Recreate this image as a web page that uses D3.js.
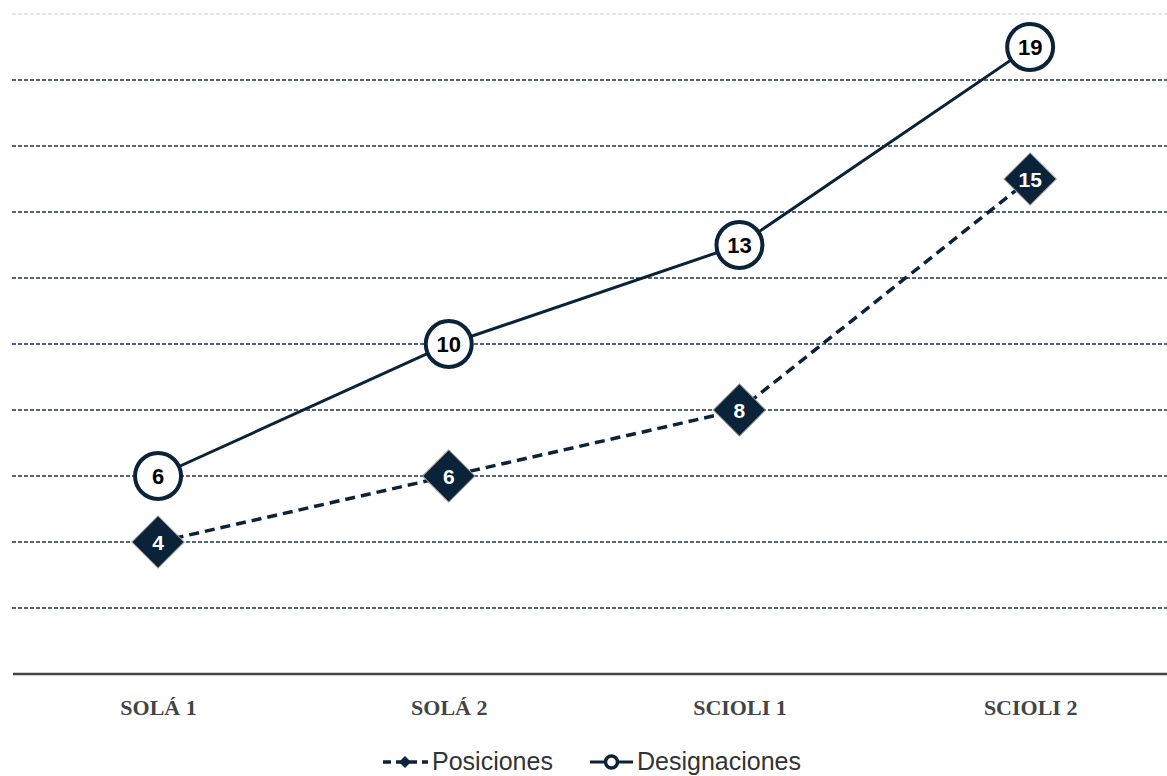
<!DOCTYPE html>
<html>
<head>
<meta charset="utf-8">
<script src="https://cdn.jsdelivr.net/npm/d3@7"></script>
<style>
  html, body { margin: 0; padding: 0; background: #fff; }
  svg { display: block; }
</style>
</head>
<body>
<svg id="chart" width="1167" height="776"></svg>
<script>
const categories = ["SOLÁ 1", "SOLÁ 2", "SCIOLI 1", "SCIOLI 2"];
const posiciones = [4, 6, 8, 15];
const designaciones = [6, 10, 13, 19];
const seriesNames = ["Posiciones", "Designaciones"];
const gridValues = [2, 4, 6, 8, 10, 12, 14, 16, 18, 20];

const navy = "#0b2338";
const svg = d3.select("#chart");

const x = d3.scalePoint().domain(categories).range([12.7, 1175.5]).padding(0.5);
const y = d3.scaleLinear().domain([0, 20]).range([674, 14]);

// gridlines
svg.append("g").selectAll("line").data(gridValues).join("line")
  .attr("x1", 12).attr("x2", 1167)
  .attr("y1", d => y(d)).attr("y2", d => y(d))
  .attr("stroke", d => d === 20 ? "#dcdcdc" : "#1a3549")
  .attr("stroke-width", 1.6)
  .attr("stroke-dasharray", "4,2");

// x axis
const xAxis = d3.axisBottom(x).tickSize(0).tickPadding(0);
const gx = svg.append("g").attr("transform", `translate(0,${y(0)})`).call(xAxis);
gx.select(".domain").attr("d", "M13,0H1167").attr("stroke", "#444").attr("stroke-width", 2.5);
gx.selectAll(".tick text")
  .attr("dy", null).attr("y", 41)
  .attr("font-family", "'Liberation Serif', 'DejaVu Serif', serif")
  .attr("font-weight", "bold")
  .attr("font-size", 22)
  .attr("fill", "#444");

const line = d3.line().x((d, i) => x(categories[i])).y(d => y(d));

// Posiciones (dashed) line
svg.append("path").datum(posiciones)
  .attr("d", line).attr("fill", "none")
  .attr("stroke", navy).attr("stroke-width", 3.5)
  .attr("stroke-dasharray", "10,6");

// Designaciones (solid) line
svg.append("path").datum(designaciones)
  .attr("d", line).attr("fill", "none")
  .attr("stroke", navy).attr("stroke-width", 3);

// diamonds
const diamond = d3.symbol().type(d3.symbolSquare).size(37 * 37);
const dg = svg.append("g").selectAll("g").data(posiciones).join("g")
  .attr("transform", (d, i) => `translate(${x(categories[i])},${y(d)})`);
dg.append("path").attr("d", diamond).attr("transform", "rotate(45)")
  .attr("fill", navy).attr("stroke", "#9a9a9a").attr("stroke-width", 1);
dg.append("text").text(d => d)
  .attr("text-anchor", "middle").attr("dy", "0.36em")
  .attr("font-family", "'Liberation Sans', Arial, sans-serif")
  .attr("font-weight", "bold").attr("font-size", 21)
  .attr("fill", "#fff");

// circles
const cg = svg.append("g").selectAll("g").data(designaciones).join("g")
  .attr("transform", (d, i) => `translate(${x(categories[i])},${y(d)})`);
cg.append("circle").attr("r", 23)
  .attr("fill", "#fff").attr("stroke", navy).attr("stroke-width", 4);
cg.append("text").text(d => d)
  .attr("text-anchor", "middle").attr("dy", "0.36em")
  .attr("font-family", "'Liberation Sans', Arial, sans-serif")
  .attr("font-weight", "bold").attr("font-size", 22)
  .attr("fill", "#000");

// legend
const legend = svg.append("g").attr("transform", "translate(0,762)");
const l1 = legend.append("g").attr("transform", "translate(383,0)");
l1.append("line").attr("x1", 0).attr("x2", 45).attr("y1", 0).attr("y2", 0)
  .attr("stroke", navy).attr("stroke-width", 3.5).attr("stroke-dasharray", "8,5");
l1.append("path").attr("d", d3.symbol().type(d3.symbolSquare).size(72))
  .attr("transform", "translate(22,0) rotate(45)").attr("fill", navy);
l1.append("text").text(seriesNames[0]).attr("x", 49).attr("y", 8)
  .attr("font-family", "'Liberation Sans', Arial, sans-serif")
  .attr("font-size", 25).attr("fill", "#333");

const l2 = legend.append("g").attr("transform", "translate(590,0)");
l2.append("line").attr("x1", 0).attr("x2", 43).attr("y1", 0).attr("y2", 0)
  .attr("stroke", navy).attr("stroke-width", 3);
l2.append("circle").attr("cx", 21.5).attr("cy", 0).attr("r", 6)
  .attr("fill", "#fff").attr("stroke", navy).attr("stroke-width", 3.5);
l2.append("text").text(seriesNames[1]).attr("x", 47).attr("y", 8)
  .attr("font-family", "'Liberation Sans', Arial, sans-serif")
  .attr("font-size", 25).attr("fill", "#333");
</script>
</body>
</html>
